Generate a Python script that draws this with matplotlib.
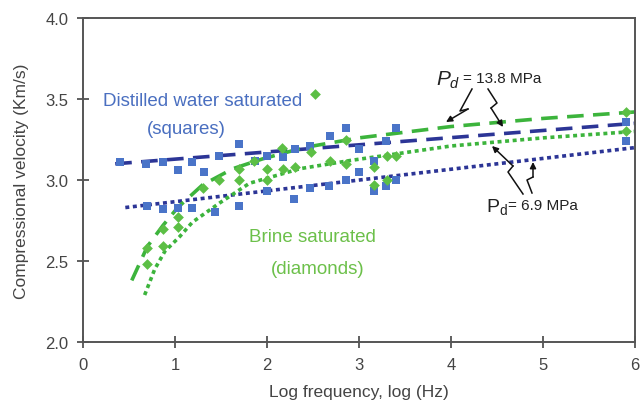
import matplotlib
matplotlib.use("Agg")
import matplotlib.pyplot as plt
import numpy as np

plt.rcParams['font.family'] = ['Liberation Sans', 'DejaVu Sans']
plt.rcParams['mathtext.fontset'] = 'custom'
plt.rcParams['mathtext.rm'] = 'Liberation Sans'
plt.rcParams['mathtext.it'] = 'Liberation Sans:italic'

# ---- data ----
# Distilled water saturated (squares)
dw_hi_x = [0.40, 0.69, 0.87, 1.03, 1.19, 1.32, 1.48, 1.70, 1.87, 2.00, 2.17, 2.30, 2.47, 2.69, 2.86, 3.00, 3.16, 3.29, 3.40, 5.90]
dw_hi_y = [3.11, 3.10, 3.11, 3.06, 3.11, 3.05, 3.15, 3.22, 3.12, 3.15, 3.14, 3.19, 3.21, 3.27, 3.32, 3.19, 3.12, 3.24, 3.32, 3.36]
dw_lo_x = [0.70, 0.87, 1.03, 1.19, 1.43, 1.70, 2.00, 2.29, 2.47, 2.67, 2.86, 3.00, 3.16, 3.29, 3.40, 5.90]
dw_lo_y = [2.84, 2.82, 2.83, 2.83, 2.80, 2.84, 2.93, 2.88, 2.95, 2.96, 3.00, 3.05, 2.93, 2.96, 3.00, 3.24]

# Brine saturated (diamonds)
br_x = [0.70, 0.70, 0.87, 0.87, 1.03, 1.03, 1.30, 1.48, 1.70, 1.70, 1.86, 2.00, 2.00, 2.16, 2.17, 2.30,
        2.48, 2.52, 2.68, 2.86, 2.86, 3.16, 3.16, 3.30, 3.30, 3.40, 5.90, 5.90]
br_y = [2.58, 2.48, 2.70, 2.59, 2.77, 2.71, 2.95, 3.00, 3.07, 3.00, 3.12, 3.07, 3.00, 3.20, 3.07, 3.08,
        3.17, 3.53, 3.12, 3.25, 3.10, 3.08, 2.97, 3.15, 3.00, 3.15, 3.42, 3.30]

# Fit lines
dw_hi_fit_x = [0.35, 6.0]
dw_hi_fit_y = [3.10, 3.35]
dw_lo_fit_x = [0.46, 6.0]
dw_lo_fit_y = [2.83, 3.20]
br_hi_fit_x = [0.53, 0.70, 0.87, 1.03, 1.30, 1.63, 1.95, 2.40, 3.00, 4.00, 5.00, 6.00]
br_hi_fit_y = [2.38, 2.59, 2.72, 2.83, 2.97, 3.07, 3.13, 3.20, 3.26, 3.33, 3.38, 3.42]
br_lo_fit_x = [0.67, 0.78, 0.89, 1.05, 1.19, 1.34, 1.49, 1.81, 2.36, 2.90, 4.00, 5.00, 6.00]
br_lo_fit_y = [2.29, 2.45, 2.56, 2.65, 2.74, 2.80, 2.86, 2.98, 3.07, 3.12, 3.21, 3.26, 3.30]

xticks = [0, 1, 2, 3, 4, 5, 6]
yticks = [2.0, 2.5, 3.0, 3.5, 4.0]

W, H = 644, 402
fig = plt.figure(figsize=(W / 100, H / 100), dpi=100)
ax = fig.add_axes([83 / W, 1 - 343 / H, (635 - 83) / W, (343 - 19) / H])

navy = '#2c3596'
sq_col = '#4a74c8'
green_line = '#3cb43c'
dia_col = '#5cbf45'

ax.plot(dw_hi_fit_x, dw_hi_fit_y, color=navy, lw=2.6, linestyle=(0, (4.6, 2.6)), zorder=2)
ax.plot(dw_lo_fit_x, dw_lo_fit_y, color=navy, lw=2.6, linestyle=(0, (1.1, 1.0)), zorder=2)
ax.plot(br_hi_fit_x, br_hi_fit_y, color=green_line, lw=2.6, linestyle=(0, (4.6, 2.6)), zorder=2)
ax.plot(br_lo_fit_x, br_lo_fit_y, color=green_line, lw=2.6, linestyle=(0, (1.1, 1.0)), zorder=2)

ax.scatter(dw_hi_x + dw_lo_x, dw_hi_y + dw_lo_y, marker='s', s=36, color=sq_col, zorder=3, linewidths=0)
ax.scatter(br_x, br_y, marker='D', s=30, color=dia_col, zorder=3, linewidths=0)

ax.set_xlim(0, 6)
ax.set_ylim(2.0, 4.0)
ax.set_xticks(xticks)
ax.set_yticks(yticks)
ax.set_xticklabels([str(t) for t in xticks])
ax.set_yticklabels(['%.1f' % t for t in yticks])
ax.tick_params(direction='inout', length=9, width=1.2, color='#444444',
               labelsize=12, labelcolor='#444444', pad=6)
for s in ax.spines.values():
    s.set_color('#555555')
    s.set_linewidth(1.4)

ax.set_xlabel('Log frequency, log (Hz)', fontsize=12.5, color='#444444', labelpad=9)
ax.set_ylabel('Compressional velocity (Km/s)', fontsize=12.5, color='#444444', labelpad=12)

# Series labels
def fp(px, py):
    return (px / W, 1 - py / H)

fig.text(*fp(203, 102), 'Distilled water saturated', color='#4a6fc0', fontsize=13.5,
         ha='center', va='center')
fig.text(*fp(186, 130), '(squares)', color='#4a6fc0', fontsize=13.5, ha='center', va='center')
fig.text(*fp(312, 238), 'Brine saturated', color='#6cc04a', fontsize=13.5, ha='center', va='center')
fig.text(*fp(318, 270), '(diamonds)', color='#6cc04a', fontsize=13.5, ha='center', va='center')

# Pressure annotations
fig.text(*fp(448, 80), r'$P_d$', fontsize=15, color='#222222', ha='center', va='center')
fig.text(*fp(463, 79), '= 13.8 MPa', fontsize=11, color='#222222', ha='left', va='center')
fig.text(*fp(497, 207), r'$\mathrm{P_d}$', fontsize=14, color='#222222', ha='center', va='center')
fig.text(*fp(508, 206), '= 6.9 MPa', fontsize=11, color='#222222', ha='left', va='center')

def bolt(pts):
    xs = [p[0] / W for p in pts]
    ys = [1 - p[1] / H for p in pts]
    fig.add_artist(plt.Line2D(xs[:-1], ys[:-1], transform=fig.transFigure, color='#111111', lw=1.1))
    fig.add_artist(matplotlib.patches.FancyArrowPatch(
        (xs[-2], ys[-2]), (xs[-1], ys[-1]), transform=fig.transFigure,
        arrowstyle='-|>', mutation_scale=9, color='#111111', lw=1.1, shrinkA=0, shrinkB=0))

bolt([(472, 90), (460, 112), (468, 110), (446, 123)])
bolt([(488, 90), (497, 104), (491, 109), (503, 128)])
bolt([(523, 195), (508, 173), (513, 167), (492, 147)])
bolt([(532, 194), (527, 181), (533, 178), (533, 163)])

fig.savefig('out.png', dpi=100)
